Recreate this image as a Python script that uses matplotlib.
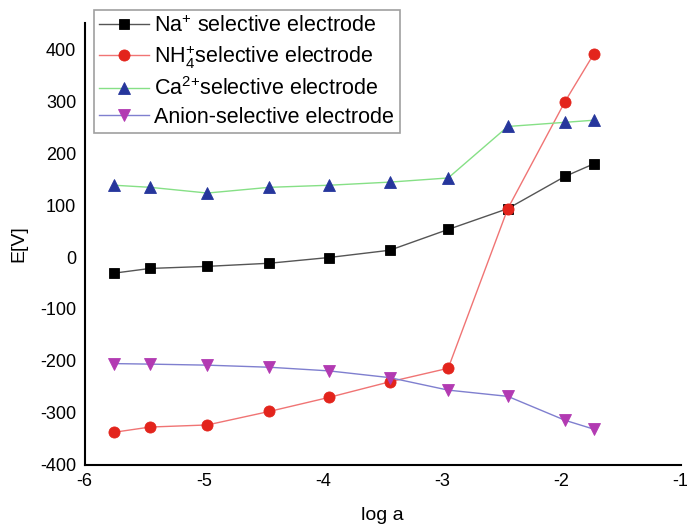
import matplotlib
matplotlib.use("Agg")
import matplotlib.pyplot as plt

plt.rcParams['font.family'] = ['Liberation Sans', 'DejaVu Sans']
plt.rcParams['mathtext.default'] = 'regular'
plt.rcParams['axes.unicode_minus'] = False

log_a = [-5.75, -5.45, -4.97, -4.45, -3.95, -3.44, -2.95, -2.45, -1.97, -1.73]

na_E = [-31, -22, -18, -12, -1, 13, 53, 93, 155, 179]
nh4_E = [-337, -327, -323, -297, -270, -240, -214, 93, 299, 390]
ca_E = [138, 134, 123, 134, 138, 144, 152, 251, 259, 263]
anion_E = [-205, -206, -208, -212, -219, -232, -256, -268, -314, -331]

labels = ['Na$^{+}$ selective electrode',
          'NH$_{4}^{+}$selective electrode',
          'Ca$^{2{+}}$selective electrode',
          'Anion-selective electrode']

series = [
    (na_E, '#555555', 'black', 's', 6.5),
    (nh4_E, '#f07474', '#e3241c', 'o', 8),
    (ca_E, '#86e086', '#26369c', '^', 8.5),
    (anion_E, '#7f7fcf', '#b23ab2', 'v', 8.5),
]

fig = plt.figure(figsize=(6.9, 5.24), dpi=100)
ax = fig.add_axes([0.1225, 0.1126, 0.864, 0.8435])

handles = []
for (vals, lc, mc, mk, ms), lab in zip(series, labels):
    h, = ax.plot(log_a, vals, color=lc, lw=1.0, marker=mk, ms=ms,
                 mfc=mc, mec=mc, mew=0.6, label=lab)
    handles.append(h)

ax.set_xlim(-6, -1)
ax.set_ylim(-400, 450)
ax.set_xticks([-6, -5, -4, -3, -2, -1])
ax.set_yticks(range(-400, 401, 100))
ax.tick_params(length=0, labelsize=13, pad=6)
for s in ['top', 'right']:
    ax.spines[s].set_visible(False)
for s in ['left', 'bottom']:
    ax.spines[s].set_linewidth(1.5)

ax.set_xlabel('log a', fontsize=14, labelpad=12)
ax.set_ylabel('E[V]', fontsize=14, labelpad=9)

leg = fig.legend(handles=handles, loc='upper left',
                 bbox_to_anchor=(94 / 690, 1 - 10 / 524),
                 fontsize=15.5, frameon=True, fancybox=False,
                 handlelength=2.3, handletextpad=0.25, labelspacing=0.3,
                 borderpad=0.25, borderaxespad=0)
leg.get_frame().set_edgecolor('#888888')
leg.get_frame().set_linewidth(1.2)

fig.savefig('out.png', dpi=100)
